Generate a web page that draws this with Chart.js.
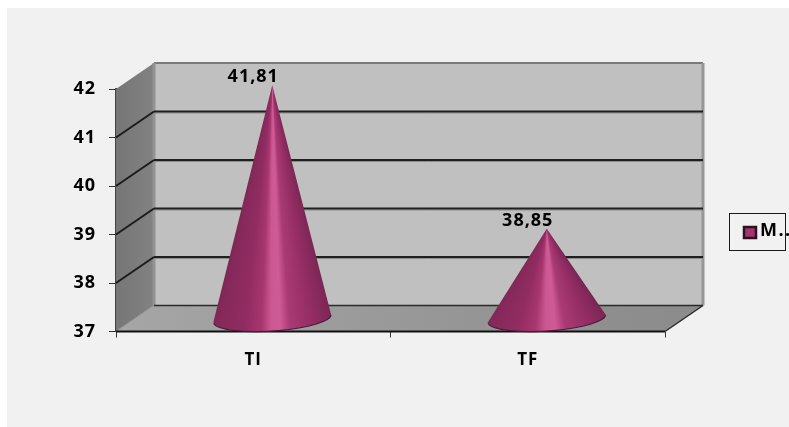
<!DOCTYPE html>
<html>
<head>
<meta charset="utf-8">
<style>
  html, body { margin: 0; padding: 0; background: #ffffff; }
  canvas { display: block; }
</style>
<script src="https://cdn.jsdelivr.net/npm/chart.js@4"></script>
</head>
<body>
<canvas id="coneChart" width="789" height="427"></canvas>
<script>
const categories = ['TI', 'TF'];
const seriesValues = [41.81, 38.85];
const seriesName = 'M..';
const tickLabels = [37, 38, 39, 40, 41, 42];

// how far the back wall sits behind the front plane
const depthX = 38;
const depthY = -26;

// shading across a cone, left edge to right edge
const coneStops = [
  [0, '#74264f'],
  [0.1, '#85295a'],
  [0.3, '#922c62'],
  [0.42, '#a8366f'],
  [0.49, '#cb5892'],
  [0.56, '#cf5b96'],
  [0.63, '#a93a74'],
  [0.82, '#922c62'],
  [0.94, '#7e2857'],
  [1, '#6c2349']
];

function polygon(ctx, pts, fill) {
  ctx.beginPath();
  pts.forEach((p, i) => i ? ctx.lineTo(p[0], p[1]) : ctx.moveTo(p[0], p[1]));
  ctx.closePath();
  ctx.fillStyle = fill;
  ctx.fill();
}

function line(ctx, x1, y1, x2, y2, color, width) {
  ctx.beginPath();
  ctx.moveTo(x1, y1);
  ctx.lineTo(x2, y2);
  ctx.strokeStyle = color;
  ctx.lineWidth = width;
  ctx.stroke();
}

const panelPlugin = {
  id: 'panel',
  beforeDraw(chart) {
    const ctx = chart.ctx;
    ctx.letterSpacing = '1px';
    ctx.save();
    ctx.fillStyle = '#f1f1f1';
    ctx.fillRect(7, 8, chart.width - 7, chart.height - 8);
    ctx.restore();
  }
};

// side wall, floor and back wall, with the gridlines taken from the y scale
const wallsPlugin = {
  id: 'walls',
  beforeDatasetsDraw(chart) {
    const ctx = chart.ctx;
    const { left, right, top, bottom } = chart.chartArea;
    const y = chart.scales.y;
    ctx.save();

    polygon(ctx, [[left + depthX, top + depthY], [right + depthX, top + depthY],
      [right + depthX, bottom + depthY], [left + depthX, bottom + depthY]], '#c0c0c0');

    const side = ctx.createLinearGradient(left, 0, left + depthX, 0);
    side.addColorStop(0, '#767676');
    side.addColorStop(1, '#828282');
    polygon(ctx, [[left, top], [left + depthX, top + depthY],
      [left + depthX, bottom + depthY], [left, bottom]], side);

    const floor = ctx.createLinearGradient(left, 0, right, 0);
    floor.addColorStop(0, '#a6a6a6');
    floor.addColorStop(1, '#8c8c8c');
    polygon(ctx, [[left, bottom], [left + depthX, bottom + depthY],
      [right + depthX, bottom + depthY], [right, bottom]], floor);

    line(ctx, left + depthX, top + depthY, right + depthX, top + depthY, '#7a7a7a', 2);
    line(ctx, right + depthX, top + depthY, right + depthX, bottom + depthY, '#979797', 3);
    line(ctx, left + depthX, top + depthY, left + depthX, bottom + depthY, '#939393', 3);

    tickLabels.slice(1, -1).forEach(v => {
      const py = y.getPixelForValue(v);
      line(ctx, left, py, left + depthX, py + depthY, '#1c1c1c', 2);
      line(ctx, left + depthX, py + depthY + 1.5, right + depthX, py + depthY + 1.5, '#8c8c8c', 1);
      line(ctx, left + depthX, py + depthY, right + depthX, py + depthY, '#1f1f1f', 2);
    });
    line(ctx, left + depthX, bottom + depthY, right + depthX, bottom + depthY, '#2a2a2a', 1.5);
    line(ctx, left, bottom, left + depthX, bottom + depthY, '#9a9a9a', 1);
    line(ctx, right, bottom, right + depthX, bottom + depthY, '#2a2a2a', 1.5);
    line(ctx, left, bottom, right, bottom, '#111111', 2);
    ctx.restore();
  }
};

// each bar of the dataset is painted as a cone standing mid-depth on the floor
const conesPlugin = {
  id: 'cones',
  afterDatasetsDraw(chart) {
    const ctx = chart.ctx;
    const bottom = chart.chartArea.bottom;
    chart.getDatasetMeta(0).data.forEach((bar, i) => {
      const cx = bar.x + depthX / 2;
      const baseY = bottom + depthY / 2;
      const apexY = bar.y + depthY / 2;
      const rx = 59;
      const ry = 12.5;
      const tilt = -0.065;
      const h = baseY - apexY;

      // shading fans out from the tip, so it is swept around the apex
      const start = Math.atan2(h, rx * 1.1);
      const end = Math.atan2(h, -rx * 1.1);
      const g = ctx.createConicGradient(start, cx, apexY);
      coneStops.slice().reverse().forEach(([t, color]) => {
        const angle = Math.atan2(h, rx * 1.1 * (2 * t - 1));
        g.addColorStop((angle - start) / (Math.PI * 2), color);
      });
      g.addColorStop(Math.min(1, (end - start) / (Math.PI * 2) + 0.01), coneStops[0][1]);

      ctx.save();
      ctx.beginPath();
      ctx.moveTo(cx, apexY);
      ctx.lineTo(cx - rx * Math.cos(tilt), baseY - rx * Math.sin(tilt));
      ctx.ellipse(cx, baseY, rx, ry, tilt, Math.PI, 0, true);
      ctx.closePath();
      ctx.fillStyle = g;
      ctx.fill();
      // dark rim along the front of the base
      ctx.beginPath();
      ctx.ellipse(cx, baseY, rx, ry, tilt, Math.PI * 0.97, Math.PI * 0.01, true);
      ctx.strokeStyle = '#4a1a38';
      ctx.lineWidth = 1.2;
      ctx.stroke();

      ctx.fillStyle = '#000000';
      ctx.font = 'bold 18px "Open Sans"';
      ctx.textAlign = 'center';
      ctx.textBaseline = 'middle';
      ctx.fillText(seriesValues[i].toFixed(2).replace('.', ','), bar.x, bar.y - 21);
      ctx.restore();
    });
  }
};

const legendBoxPlugin = {
  id: 'legendBox',
  afterDraw(chart) {
    const ctx = chart.ctx;
    ctx.save();
    ctx.strokeStyle = '#1a1a1a';
    ctx.lineWidth = 1;
    ctx.strokeRect(729.5, 213.5, 56, 37);
    ctx.fillStyle = '#a3346e';
    ctx.fillRect(744, 227, 12, 11);
    ctx.strokeStyle = '#2a1020';
    ctx.lineWidth = 2.5;
    ctx.strokeRect(744, 227, 12, 11);
    ctx.fillStyle = '#000000';
    ctx.font = 'bold 18px "Open Sans"';
    ctx.letterSpacing = '1.5px';
    ctx.textAlign = 'left';
    ctx.textBaseline = 'middle';
    ctx.fillText(seriesName, 760, 231);
    ctx.restore();
  }
};

new Chart(document.getElementById('coneChart'), {
  type: 'bar',
  data: {
    labels: categories,
    datasets: [{
      label: seriesName,
      data: seriesValues,
      backgroundColor: 'rgba(0,0,0,0)',
      borderWidth: 0
    }]
  },
  plugins: [panelPlugin, wallsPlugin, conesPlugin, legendBoxPlugin],
  options: {
    responsive: false,
    animation: false,
    layout: { padding: { top: 89, right: 124, left: 0, bottom: 0 } },
    plugins: { legend: { display: false }, tooltip: { enabled: false } },
    scales: {
      x: {
        afterFit(scale) { scale.height = 95.5; },
        grid: { drawOnChartArea: false, color: '#333333', tickLength: 6, lineWidth: 1 },
        border: { display: false },
        ticks: { color: '#000000', padding: 12, font: { family: 'Open Sans', size: 17, weight: 'bold' } }
      },
      y: {
        min: 37,
        max: 42,
        afterFit(scale) { scale.width = 116; },
        afterBuildTicks(scale) { scale.ticks = tickLabels.map(v => ({ value: v })); },
        grid: { drawOnChartArea: false, color: '#333333', tickLength: 7, lineWidth: 1 },
        border: { color: '#444444', width: 2 },
        ticks: { color: '#000000', padding: 13, font: { family: 'Open Sans', size: 18, weight: 'bold' } }
      }
    }
  }
});
</script>
</body>
</html>
